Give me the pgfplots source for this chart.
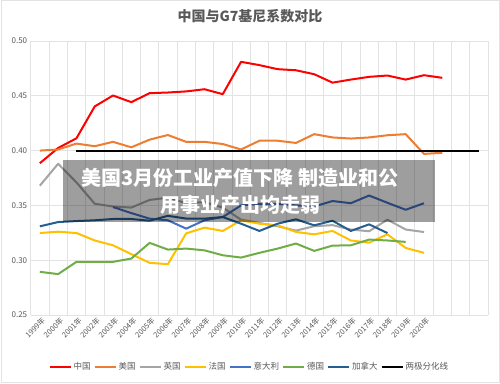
\documentclass[border=0pt]{standalone}
\usepackage{pgfplots}
\pgfplotsset{compat=1.18}
\usepackage{fontspec}
\setmainfont{Noto Sans CJK SC}
\definecolor{cCN}{HTML}{FF0000}
\definecolor{cUS}{HTML}{ED7D31}
\definecolor{cUK}{HTML}{A5A5A5}
\definecolor{cFR}{HTML}{FFC000}
\definecolor{cIT}{HTML}{4472C4}
\definecolor{cDE}{HTML}{70AD47}
\definecolor{cCA}{HTML}{255E91}
\definecolor{gridc}{HTML}{E3E3E3}
\definecolor{labc}{HTML}{595959}
\begin{document}
\begin{tikzpicture}
\path[use as bounding box] (0pt,0pt) rectangle (500pt,383pt);
\draw[draw=gridc, line width=1pt, fill=white] (1pt,1pt) rectangle (499pt,382pt);
\node[font=\fontsize{14}{16}\selectfont\bfseries, text=labc] at (250pt,367pt) {中国与G7基尼系数对比};
\begin{axis}[
  at={(30.7pt,68pt)}, anchor=south west, scale only axis,
  width=457.3pt, height=274pt,
  xmin=-0.5, xmax=24.5, ymin=0.25, ymax=0.50,
  ytick={0.25,0.30,0.35,0.40,0.45,0.50},
  yticklabel style={/pgf/number format/fixed, /pgf/number format/fixed zerofill, /pgf/number format/precision=2, /pgf/number format/assume math mode=true, font=\fontsize{8}{9}\selectfont, text=labc},
  xtick={0,...,21},
  xticklabels={1999年,2000年,2001年,2002年,2003年,2004年,2005年,2006年,2007年,2008年,2009年,2010年,2011年,2012年,2013年,2014年,2015年,2016年,2017年,2018年,2019年,2020年},
  x tick label style={rotate=45, anchor=east, font=\fontsize{7.5}{8}\selectfont, text=labc, xshift=3pt, yshift=-6pt},
  minor xtick={-0.5,0.5,...,24.5},
  xminorgrids=true, ymajorgrids=true,
  grid style={draw=gridc, line width=0.7pt},
  minor grid style={draw=gridc, line width=0.7pt},
  axis x line*=bottom, axis y line*=left,
  x axis line style={draw=gridc, line width=0.7pt, -},
  y axis line style={draw=none},
  major tick length=0pt, minor tick length=0pt,
  legend style={at={(0.478,-0.19)}, anchor=center, draw=none, fill=none, font=\fontsize{8.5}{10}\selectfont, text=labc, /tikz/every even column/.append style={column sep=1pt}, inner sep=0pt},
  legend columns=-1,
  legend image code/.code={\draw[#1, line width=2pt] (0pt,0pt) -- (21pt,0pt);},
  every axis plot/.append style={line width=2pt, line join=round, mark=none},
]
\addplot[cCN] coordinates {(0,0.3885)(1,0.4024)(2,0.4112)(3,0.4403)(4,0.4503)(5,0.4442)(6,0.4524)(7,0.4530)(8,0.4540)(9,0.4560)(10,0.4515)(11,0.4810)(12,0.4780)(13,0.4743)(14,0.4733)(15,0.4697)(16,0.4620)(17,0.4648)(18,0.4673)(19,0.4685)(20,0.4648)(21,0.4688)(22,0.4664)};
\addlegendentry{中国}
\addplot[cUS] coordinates {(0,0.400)(1,0.401)(2,0.4064)(3,0.404)(4,0.408)(5,0.403)(6,0.410)(7,0.4142)(8,0.408)(9,0.408)(10,0.406)(11,0.401)(12,0.409)(13,0.409)(14,0.407)(15,0.415)(16,0.412)(17,0.411)(18,0.412)(19,0.414)(20,0.415)(21,0.397)(22,0.398)};
\addlegendentry{美国}
\addplot[cUK] coordinates {(0,0.368)(1,0.388)(2,0.371)(3,0.3515)(4,0.349)(5,0.348)(6,0.355)(7,0.357)(8,0.352)(9,0.353)(10,0.348)(11,0.337)(12,0.334)(13,0.331)(14,0.327)(15,0.331)(16,0.332)(17,0.328)(18,0.3264)(19,0.337)(20,0.328)(21,0.3257)};
\addlegendentry{英国}
\addplot[cFR] coordinates {(0,0.3248)(1,0.326)(2,0.3248)(3,0.318)(4,0.3136)(5,0.3055)(6,0.2976)(7,0.2964)(8,0.3245)(9,0.3297)(10,0.3267)(11,0.3364)(12,0.3333)(13,0.3318)(14,0.3258)(15,0.3236)(16,0.3267)(17,0.318)(18,0.316)(19,0.3236)(20,0.3112)(21,0.3067)};
\addlegendentry{法国}
\addplot[cIT] coordinates {(4,0.3485)(5,0.343)(6,0.3379)(7,0.3364)(8,0.3288)(9,0.3364)(10,0.3394)(11,0.350)(12,0.3515)(13,0.3515)(14,0.350)(15,0.349)(16,0.354)(17,0.352)(18,0.359)(19,0.3524)(20,0.346)(21,0.352)};
\addlegendentry{意大利}
\addplot[cDE] coordinates {(0,0.2894)(1,0.2873)(2,0.2985)(3,0.2985)(4,0.2985)(5,0.3015)(6,0.3158)(7,0.3097)(8,0.3106)(9,0.309)(10,0.3045)(11,0.3024)(12,0.3067)(13,0.3106)(14,0.3152)(15,0.3085)(16,0.3133)(17,0.3136)(18,0.3188)(19,0.318)(20,0.3167)};
\addlegendentry{德国}
\addplot[cCA] coordinates {(0,0.3309)(1,0.3348)(2,0.3357)(3,0.3364)(4,0.3376)(5,0.3376)(6,0.336)(7,0.3405)(8,0.338)(9,0.3379)(10,0.3394)(11,0.3333)(12,0.3267)(13,0.3333)(14,0.3373)(15,0.3318)(16,0.336)(17,0.3267)(18,0.3327)(19,0.3248)};
\addlegendentry{加拿大}
\addplot[black] coordinates {(2,0.40)(24,0.40)};
\addlegendentry{两极分化线}
\end{axis}
\fill[black, opacity=0.38] (63pt,161pt) rectangle (435pt,223pt);
\node[text=white, font=\fontsize{20}{27}\selectfont\bfseries, align=center] at (240pt,191.5pt) {美国3月份工业产值下降 制造业和公\\用事业产出均走弱};
\end{tikzpicture}
\end{document}
